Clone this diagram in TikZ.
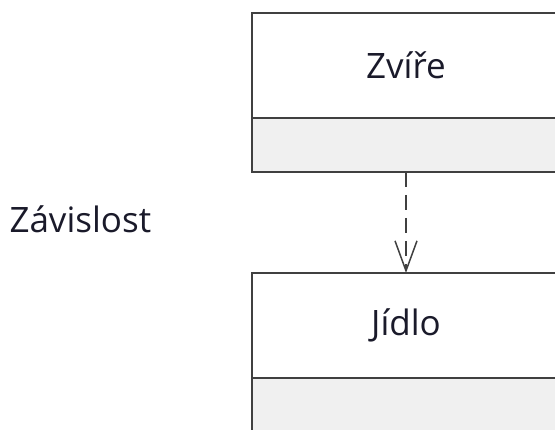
\documentclass[tikz,border=0pt]{standalone}
\usepackage{fontspec}
\setmainfont{Open Sans}
\usetikzlibrary{positioning,arrows.meta}

\definecolor{umlline}{HTML}{404040}
\definecolor{umlfill}{HTML}{F0F0F0}
\definecolor{umltext}{HTML}{1A1A2A}

\tikzset{
  classname/.style={draw=umlline, line width=1.5pt, fill=white, minimum width=308pt,
    minimum height=105pt, inner sep=0pt, outer sep=0pt, text=umltext,
    font=\fontsize{35}{42}\selectfont},
  classattr/.style={draw=umlline, line width=1.5pt, fill=umlfill, minimum width=308pt,
    minimum height=54pt, inner sep=0pt, outer sep=0pt},
  dependency/.style={draw=umlline, line width=1.7pt, dash pattern=on 15pt off 8pt,
    -{Straight Barb[length=30pt,width=22pt,line width=1.5pt]}}
}

\begin{document}
\begin{tikzpicture}[x=1pt,y=-1pt]
  \useasboundingbox (0,0) rectangle (555,430);

  % Zvire
  \node[classname, anchor=north west] (zvire) at (252,13) {Zvíře};
  \node[classattr, below=0pt of zvire] (zvireattr) {};

  % Jidlo
  \node[classname, anchor=north west] (jidlo) at (252,273) {Jídlo};
  \node[classattr, below=0pt of jidlo] (jidloattr) {};

  \draw[dependency] (zvireattr.south) -- (jidlo.north);

  \node[anchor=west, text=umltext, font=\fontsize{35}{42}\selectfont] (label) at (6,219) {Závislost};
\end{tikzpicture}
\end{document}
